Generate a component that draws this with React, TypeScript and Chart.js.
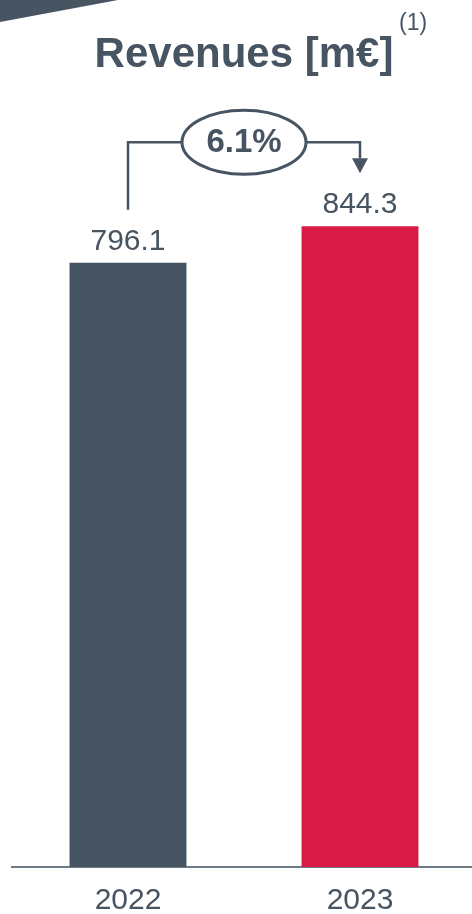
import React, { useEffect, useRef } from "react";
import { Chart, registerables } from "chart.js";

Chart.register(...registerables);

const categories = ["2022", "2023"];
const revenues = [796.1, 844.3];
const valueLabels = ["796.1", "844.3"];
const growthLabel = "6.1%";
const titleText = "Revenues [m€]";
const titleNote = "(1)";
const barColors = ["#475462", "#D81A46"];

const SLATE = "#475462";
const FONT = "'Liberation Sans', Arial, sans-serif";

export default function App() {
  const ref = useRef<HTMLCanvasElement>(null);

  useEffect(() => {
    document.body.style.margin = "0";
    const overlay = {
      id: "overlay",
      afterDraw(chart: any) {
        const ctx = chart.ctx as CanvasRenderingContext2D;
        const bars = chart.getDatasetMeta(0).data;
        ctx.save();

        // top-left decorative band
        ctx.fillStyle = SLATE;
        ctx.beginPath();
        ctx.moveTo(0, 0);
        ctx.lineTo(118, 0);
        ctx.lineTo(0, 22);
        ctx.closePath();
        ctx.fill();

        // title
        ctx.fillStyle = SLATE;
        ctx.textAlign = "center";
        ctx.textBaseline = "alphabetic";
        ctx.font = `bold 42px ${FONT}`;
        ctx.fillText(titleText, 244, 67);
        ctx.font = `23px ${FONT}`;
        ctx.textAlign = "left";
        ctx.fillText(titleNote, 399, 30);

        // value labels
        ctx.font = `30px ${FONT}`;
        ctx.textAlign = "center";
        bars.forEach((b: any, i: number) => {
          ctx.fillText(valueLabels[i], b.x, b.y - 13);
        });

        // growth annotation
        const x1 = bars[0].x;
        const x2 = bars[1].x;
        const yTop = Math.min(bars[0].y, bars[1].y) - 84;
        const cx = (x1 + x2) / 2;
        const rx = 62;
        const ry = 32;
        const tipY = bars[1].y - 53;
        ctx.strokeStyle = SLATE;
        ctx.lineWidth = 2.5;
        ctx.beginPath();
        ctx.moveTo(x1, bars[0].y - 53);
        ctx.lineTo(x1, yTop);
        ctx.lineTo(cx - rx, yTop);
        ctx.moveTo(cx + rx, yTop);
        ctx.lineTo(x2, yTop);
        ctx.lineTo(x2, tipY - 15);
        ctx.stroke();
        ctx.beginPath();
        ctx.ellipse(cx, yTop, rx, ry, 0, 0, Math.PI * 2);
        ctx.lineWidth = 3;
        ctx.stroke();
        ctx.fillStyle = SLATE;
        ctx.beginPath();
        ctx.moveTo(x2 - 8, tipY - 15);
        ctx.lineTo(x2 + 8, tipY - 15);
        ctx.lineTo(x2, tipY);
        ctx.closePath();
        ctx.fill();
        ctx.font = `bold 33px ${FONT}`;
        ctx.textBaseline = "middle";
        ctx.textAlign = "center";
        ctx.fillText(growthLabel, cx, yTop + 1);

        ctx.restore();
      },
    };

    const chart = new Chart(ref.current!, {
      type: "bar",
      data: {
        labels: categories,
        datasets: [
          {
            data: revenues,
            backgroundColor: barColors,
            borderWidth: 0,
            categoryPercentage: 1,
            barPercentage: 0.504,
          },
        ],
      },
      options: {
        responsive: false,
        animation: false,
        devicePixelRatio: 1,
        layout: { padding: { top: 184, left: 12, right: 0, bottom: 0 } },
        plugins: {
          legend: { display: false },
          tooltip: { enabled: false },
          title: { display: false },
        },
        scales: {
          x: {
            grid: { display: false, drawTicks: false },
            border: { display: true, color: "#6E7A86", width: 2 },
            ticks: {
              color: SLATE,
              font: { family: FONT, size: 30, lineHeight: 1 },
              padding: 19,
            },
            afterFit(scale: any) {
              scale.height = 47;
            },
          },
          y: {
            display: false,
            min: 0,
            max: 900,
          },
        },
      },
      plugins: [overlay],
    });
    return () => chart.destroy();
  }, []);

  return (
    <div
      style={{
        position: "absolute",
        left: 0,
        top: 0,
        width: 472,
        height: 914,
        overflow: "hidden",
        background: "#fff",
      }}
    >
      <canvas ref={ref} width={476} height={914} />
    </div>
  );
}
